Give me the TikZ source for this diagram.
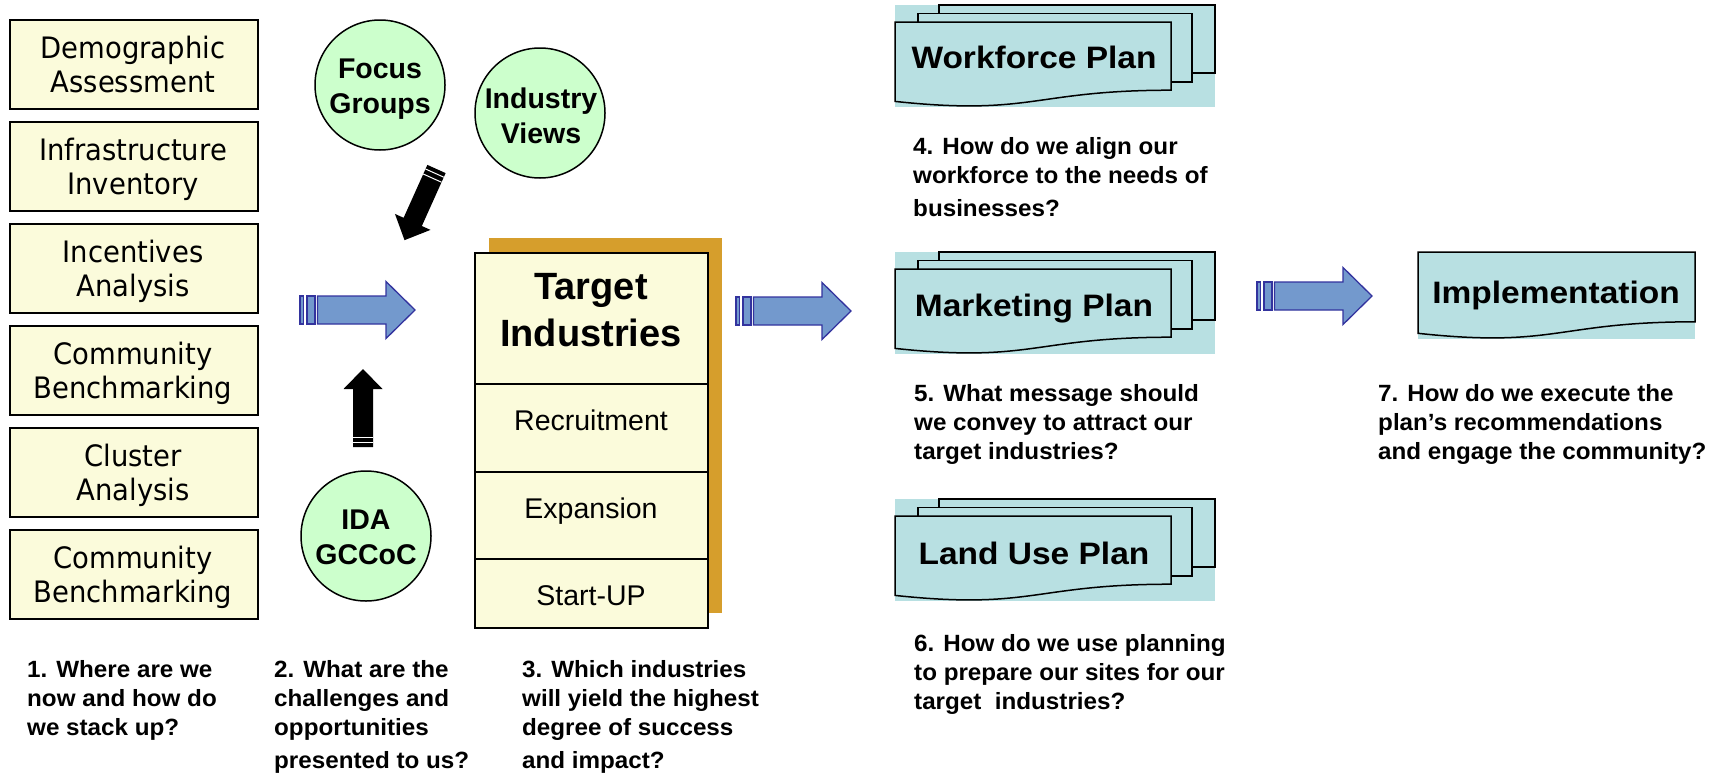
\documentclass[tikz,border=0pt]{standalone}
\usepackage{fontspec}
\setmainfont{Liberation Sans}
\newfontfamily\boxfont[FakeStretch=0.93]{DejaVu Sans}
\newfontfamily\qfont[FakeStretch=1.03]{Liberation Sans}
\newfontfamily\planfont[FakeStretch=1.08]{Liberation Sans}
\definecolor{boxyellow}{HTML}{FBFBDB}
\definecolor{circgreen}{HTML}{CCFFCC}
\definecolor{shadowgold}{HTML}{D69E2C}
\definecolor{planblue}{HTML}{B8E0E2}
\definecolor{arrowblue}{HTML}{7399CD}
\definecolor{arrowedge}{HTML}{33339E}
\tikzset{
  inbox/.style={draw=black, line width=1.5pt, fill=boxyellow, minimum width=248pt, minimum height=89pt, inner sep=0pt, anchor=north west},
  boxtxt/.style={font=\boxfont\fontsize{29.5}{34}\selectfont, align=center, inner sep=0pt, anchor=north},
  circ/.style={circle, draw=black, line width=1.5pt, fill=circgreen, minimum size=130pt, inner sep=0pt},
  circtxt/.style={font=\bfseries\fontsize{28.5}{35}\selectfont, align=center, inner sep=0pt, anchor=north},
  tbox/.style={draw=black, line width=1.6pt, fill=boxyellow, minimum width=233pt, inner sep=0pt, anchor=north west},
  tsub/.style={font=\fontsize{28.5}{33}\selectfont, inner sep=0pt, anchor=base},
  plantxt/.style={font=\planfont\bfseries\fontsize{31}{36}\selectfont, inner sep=0pt, anchor=base},
  qtxt/.style={font=\qfont\bfseries\fontsize{23.5}{29}\selectfont, align=left, inner sep=0pt, anchor=north west},
  barrow/.style={fill=arrowblue, draw=arrowedge, line width=1.3pt, line join=miter},
  planline/.style={draw=black, fill=planblue, line width=1.5pt, line join=miter},
  bluearrow/.pic={
    \filldraw[barrow] (0,-14) rectangle (3.5,14);
    \filldraw[barrow] (7,-14) rectangle (15,14);
    \filldraw[barrow] (17.5,-14) -- (86,-14) -- (86,-28.5) -- (115,0) -- (86,28.5) -- (86,14) -- (17.5,14) -- cycle;
  },
  blackarrow/.pic={
    \fill[black] (0,-10) -- (58,-10) -- (58,-19.5) -- (78,0) -- (58,19.5) -- (58,10) -- (0,10) -- cycle;
    \draw[white, line width=1pt] (4.5,-10) -- (4.5,10) (10,-10) -- (10,10);
  },
  planstack/.pic={
    \fill[planblue] (0,0) rectangle (320,102);
    \filldraw[planline] (44,0) rectangle (320,68);
    \filldraw[planline] (23,8.5) rectangle (297,77);
    \filldraw[planline] (0,17) -- (276,17) -- (276,85.2) .. controls (138,85.2) and (138,111.1) .. (0,96.4) -- cycle;
  },
  docpage/.pic={
    \fill[planblue] (0,0) rectangle (277,87);
    \filldraw[planline] (0,0) -- (277,0) -- (277,69.8) .. controls (138.5,69.8) and (138.5,96.3) .. (0,81.3) -- cycle;
  }
}
\begin{document}
\begin{tikzpicture}[x=1pt,y=-1pt]
\useasboundingbox (0,0) rectangle (1720,774);

% left column of boxes
\node[inbox] (b1) at (9,19) {};
\node[inbox] (b2) at (9,121) {};
\node[inbox] (b3) at (9,223) {};
\node[inbox] (b4) at (9,325) {};
\node[inbox] (b5) at (9,427) {};
\node[inbox] (b6) at (9,529) {};
\node[boxtxt] (t1) at (133,36) {Demographic\\Assessment};
\node[boxtxt] (t2) at (133,138) {Infrastructure\\Inventory};
\node[boxtxt] (t3) at (133,240) {Incentives\\Analysis};
\node[boxtxt] (t4) at (133,342) {Community\\Benchmarking};
\node[boxtxt] (t5) at (133,444) {Cluster\\Analysis};
\node[boxtxt] (t6) at (133,546) {Community\\Benchmarking};

% circles
\node[circ] (fg) at (380,85) {};
\node[circtxt] (fgt) at (380,59) {Focus\\Groups};
\node[circ] (iv) at (540,113) {};
\node[circtxt] (ivt) at (541,88) {Industry\\Views};
\node[circ] (ida) at (366,536) {};
\node[circtxt] (idat) at (366,510) {IDA\\GCCoC};

% black arrows
\path (436.5,169) pic[rotate=-114.2] {blackarrow};
\path (363,447) pic[rotate=90] {blackarrow};

% blue arrows
\path (300,310) pic {bluearrow};
\path (736,311) pic {bluearrow};
\path (1257,296) pic {bluearrow};

% target industries
\fill[shadowgold] (489,238) rectangle (722,613);
\node[tbox, minimum height=131pt] (thead) at (474,252) {};
\node[tbox, minimum height=88pt] (trec) at (474,383) {};
\node[tbox, minimum height=87pt] (texp) at (474,471) {};
\node[tbox, minimum height=69pt] (tstart) at (474,558) {};
\node[font=\bfseries\fontsize{38}{47}\selectfont, align=center, inner sep=0pt, anchor=north] (theadt) at (591,273) {Target\\Industries};
\node[tsub] (trect) at (591,430) {Recruitment};
\node[tsub] (texpt) at (591,518) {Expansion};
\node[tsub] (tstartt) at (591,605) {Start-UP};

% plans
\path (895,5) pic {planstack};
\path (895,252) pic {planstack};
\path (895,499) pic {planstack};
\path (1418,252) pic {docpage};
\node[plantxt] (wp) at (1034,68) {Workforce Plan};
\node[plantxt] (mp) at (1034,316) {Marketing Plan};
\node[plantxt] (lp) at (1034,564) {Land Use Plan};
\node[plantxt] (ip) at (1556,303) {Implementation};

% questions
\node[qtxt] (q1) at (27,660) {1. Where are we\\now and how do\\we stack up?};
\node[qtxt] (q2) at (274,660) {2. What are the\\challenges and\\opportunities\\[4pt]presented to us?};
\node[qtxt] (q3) at (522,660) {3. Which industries\\will yield the highest\\degree of success\\[4pt]and impact?};
\node[qtxt] (q4) at (913,137) {4. How do we align our\\workforce to the needs of\\[4pt]businesses?};
\node[qtxt] (q5) at (914,384.5) {5. What message should\\we convey to attract our\\target industries?};
\node[qtxt] (q6) at (914,634) {6. How do we use planning\\to prepare our sites for our\\target~ industries?};
\node[qtxt] (q7) at (1378,384.5) {7. How do we execute the\\plan’s recommendations\\and engage the community?};
\end{tikzpicture}
\end{document}
